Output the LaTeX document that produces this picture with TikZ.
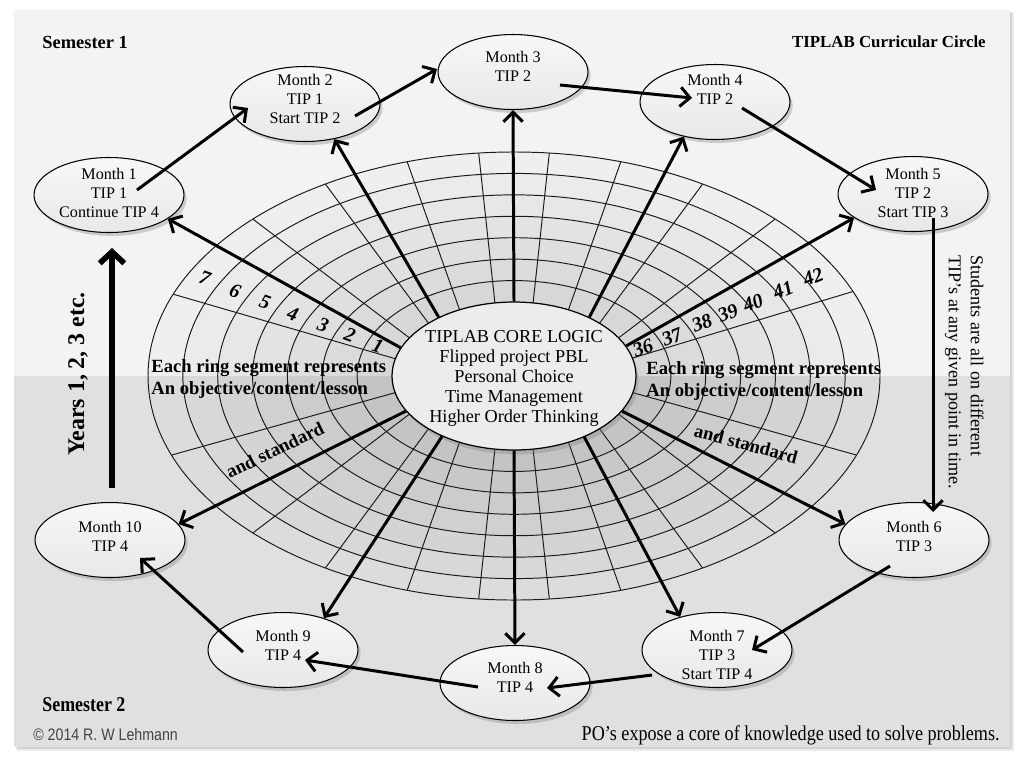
\documentclass[tikz,border=0pt]{standalone}
\usepackage{fontspec}
\setmainfont{Liberation Serif}
\setsansfont{Liberation Sans}
\usetikzlibrary{arrows.meta,shapes.geometric,shadows}
\definecolor{topbg}{HTML}{F3F3F3}
\definecolor{botbg}{HTML}{E0E0E0}
\definecolor{gridc}{HTML}{1A1A1A}
\definecolor{corefill}{HTML}{ECECEC}
\definecolor{copyc}{HTML}{444444}
\begin{document}
\begin{tikzpicture}[x=0.02cm,y=-0.02cm,
  gridline/.style={draw=gridc,line width=0.55pt},
  month/.style={ellipse,draw=black,line width=0.6pt,top color=black!3,bottom color=black!9,
    minimum width=3cm,minimum height=1.5cm,inner sep=0pt,
    drop shadow={opacity=0.35,shadow xshift=1.5pt,shadow yshift=-2pt}},
  coreshape/.style={ellipse,draw=black,line width=0.7pt,fill=corefill,
    minimum width=4.88cm,minimum height=2.96cm,inner sep=0pt,
    drop shadow={opacity=0.35,shadow xshift=1.5pt,shadow yshift=-2.5pt}},
  mtext/.style={align=center,inner sep=0pt,font=\fontsize{9.2}{10.8}\selectfont},
  ctext/.style={align=center,inner sep=0pt,font=\fontsize{10.4}{11.4}\selectfont},
  blab/.style={align=left,inner sep=0pt,font=\fontsize{10.6}{12.2}\selectfont\bfseries},
  num/.style={inner sep=0pt,font=\fontsize{11.5}{13}\selectfont\bfseries\itshape},
  carr/.style={line width=1.7pt,-{Straight Barb[length=5.5pt,width=11pt]}},
  cyc/.style={line width=1.7pt,-{Straight Barb[length=5.5pt,width=11pt]}},
  yarr/.style={line width=3.2pt,-{Straight Barb[length=6.5pt,width=14pt]}}
]
\useasboundingbox (0,0) rectangle (1030,762);
% panel with shadow
\fill[black,opacity=0.08] (17,13) rectangle (1014,751);
\fill[black,opacity=0.10] (16,12) rectangle (1012,749);
\fill[topbg] (14,10) rectangle (1010,376);
\fill[botbg] (14,376) rectangle (1010,747);

% grid shading
\def\cx{514}\def\cy{376}
\foreach \k in {7,6,...,1} {
  \pgfmathsetmacro\A{122+34.857*\k}
  \pgfmathsetmacro\B{74+21.43*\k}
  \fill[black,opacity=0.016] (\cx,\cy) ellipse [x radius=\A, y radius=\B];
}
% ring ellipses
\foreach \k in {1,...,7} {
  \pgfmathsetmacro\A{122+34.857*\k}
  \pgfmathsetmacro\B{74+21.43*\k}
  \draw[gridline] (\cx,\cy) ellipse [x radius=\A, y radius=\B];
}
% radial lines
\foreach \a in {14,31,45.5,63.5,81,99,116.5,134.5,149,166.5,-13,-31,-45.5,-63.5,-81,-99,-116.5,-134.5,-149,-167} {
  \pgfmathsetmacro\ca{cos(\a)}
  \pgfmathsetmacro\sa{sin(\a)}
  \pgfmathsetmacro\ro{366/sqrt(\ca*\ca+(\sa*1.6339)^2)}
  \draw[gridline] ({\cx+122*\ca},{\cy-74*\sa}) -- ({\cx+\ro*\ca},{\cy-\ro*\sa});
}

% core
\node[coreshape] (core) at (514,376) {};
\node[ctext] (coretext) at (514,378) {TIPLAB CORE LOGIC\\Flipped project PBL\\Personal Choice\\Time Management\\Higher Order Thinking};

% months
\node[month] (m1) at (109,195) {};
\node[month] (m2) at (305,104) {};
\node[month] (m3) at (513,72) {};
\node[month] (m4) at (715,102) {};
\node[month] (m5) at (913,194) {};
\node[month] (m6) at (914,540) {};
\node[month] (m7) at (717,650) {};
\node[month] (m8) at (515,683) {};
\node[month] (m9) at (283,650) {};
\node[month] (m10) at (110,540) {};

\node[mtext] (t1) at (109,193) {Month 1\\TIP 1\\Continue TIP 4};
\node[mtext] (t2) at (305,99) {Month 2\\TIP 1\\Start TIP 2};
\node[mtext] (t3) at (513,66) {Month 3\\TIP 2};
\node[mtext] (t4) at (715,89) {Month 4\\TIP 2};
\node[mtext] (t5) at (913,193) {Month 5\\TIP 2\\Start TIP 3};
\node[mtext] (t6) at (914,536) {Month 6\\TIP 3};
\node[mtext] (t7) at (717,655) {Month 7\\TIP 3\\Start TIP 4};
\node[mtext] (t8) at (515,677) {Month 8\\TIP 4};
\node[mtext] (t9) at (283,645) {Month 9\\TIP 4};
\node[mtext] (t10) at (110,536) {Month 10\\TIP 4};

% core arrows
\draw[carr] (core.166) -- (m1.-22);
\draw[carr] (core.142) -- (m2.-50);
\draw[carr] (core.90) -- (m3.-90);
\draw[carr] (core.38) -- (m4.228);
\draw[carr] (core.15) -- (m5.202);
\draw[carr] (core.-18) -- (m6.167);
\draw[carr] (core.-41) -- (m7.138);
\draw[carr] (core.-90) -- (m8.90);
\draw[carr] (core.220) -- (m9.38);
\draw[carr] (core.198) -- (m10.13);

% cycle arrows
\coordinate (s12) at (137,190); \coordinate (e12) at (248,108);
\coordinate (s23) at (355,116); \coordinate (e23) at (437,69);
\coordinate (s34) at (560,85);  \coordinate (e34) at (692,98);
\coordinate (s45) at (742,108); \coordinate (e45) at (876,190);
\coordinate (s56) at (933,218); \coordinate (e56) at (933,512);
\coordinate (s67) at (890,566); \coordinate (e67) at (752,650);
\coordinate (s78) at (652,675); \coordinate (e78) at (547,688);
\coordinate (s89) at (478,687); \coordinate (e89) at (305,660);
\coordinate (s910) at (243,652); \coordinate (e910) at (140,558);
\coordinate (ys) at (112,488); \coordinate (ye) at (112,248);
\draw[cyc] (s12) -- (e12);
\draw[cyc] (s23) -- (e23);
\draw[cyc] (s34) -- (e34);
\draw[cyc] (s45) -- (e45);
\draw[cyc] (s56) -- (e56);
\draw[cyc] (s67) -- (e67);
\draw[cyc] (s78) -- (e78);
\draw[cyc] (s89) -- (e89);
\draw[cyc] (s910) -- (e910);
\draw[yarr] (ys) -- (ye);

% ring numbers
\node[num,rotate=-20] (n7) at (205,278) {7};
\node[num,rotate=-20] (n6) at (235,291) {6};
\node[num,rotate=-20] (n5) at (265,302) {5};
\node[num,rotate=-20] (n4) at (293,314) {4};
\node[num,rotate=-20] (n3) at (323,325) {3};
\node[num,rotate=-20] (n2) at (350,335) {2};
\node[num,rotate=-20] (n1) at (378,346) {1};
\node[num,rotate=22] (n36) at (643,348) {36};
\node[num,rotate=22] (n37) at (672,337) {37};
\node[num,rotate=22] (n38) at (702,323) {38};
\node[num,rotate=22] (n39) at (728,313) {39};
\node[num,rotate=22] (n40) at (753,303) {40};
\node[num,rotate=22] (n41) at (783,290) {41};
\node[num,rotate=22] (n42) at (813,277) {42};

% labels
\node[blab,anchor=west] (lblL) at (151,379) {Each ring segment represents\\An objective/content/lesson};
\node[blab,anchor=west] (lblR) at (646,381) {Each ring segment represents\\An objective/content/lesson};
\node[blab,rotate=25.6] (stdL) at (275,450) {and standard};
\node[blab,rotate=-15] (stdR) at (746,444) {and standard};
\node[inner sep=0pt,rotate=90,font=\fontsize{13.6}{16}\selectfont\bfseries] (years) at (78,374) {Years 1, 2, 3 etc.};
\node[inner sep=0pt,rotate=-90,anchor=north west,align=left,font=\fontsize{10.3}{12.5}\selectfont] (students) at (984,255) {Students are all on different\\TIP’s at any given point in time.};

\node[inner sep=0pt,anchor=west,font=\fontsize{10.5}{12}\selectfont\bfseries] (sem1) at (42,42) {Semester 1};
\node[inner sep=0pt,anchor=east,font=\fontsize{9.6}{12}\selectfont\bfseries] (title) at (986,42) {TIPLAB Curricular Circle};
\node[inner sep=0pt,anchor=west,font=\fontsize{12}{14}\selectfont\bfseries] (sem2) at (42,705) {\scalebox{0.85}[1]{Semester 2}};
\node[inner sep=0pt,anchor=west,text=copyc,font=\fontsize{9.5}{11}\selectfont\sffamily] (copy) at (33,735) {\scalebox{0.85}[1]{© 2014 R. W Lehmann}};
\node[inner sep=0pt,anchor=east,font=\fontsize{12}{14}\selectfont] (po) at (1000,735) {\scalebox{0.86}[1]{PO’s expose a core of knowledge used to solve problems.}};
\end{tikzpicture}
\end{document}
